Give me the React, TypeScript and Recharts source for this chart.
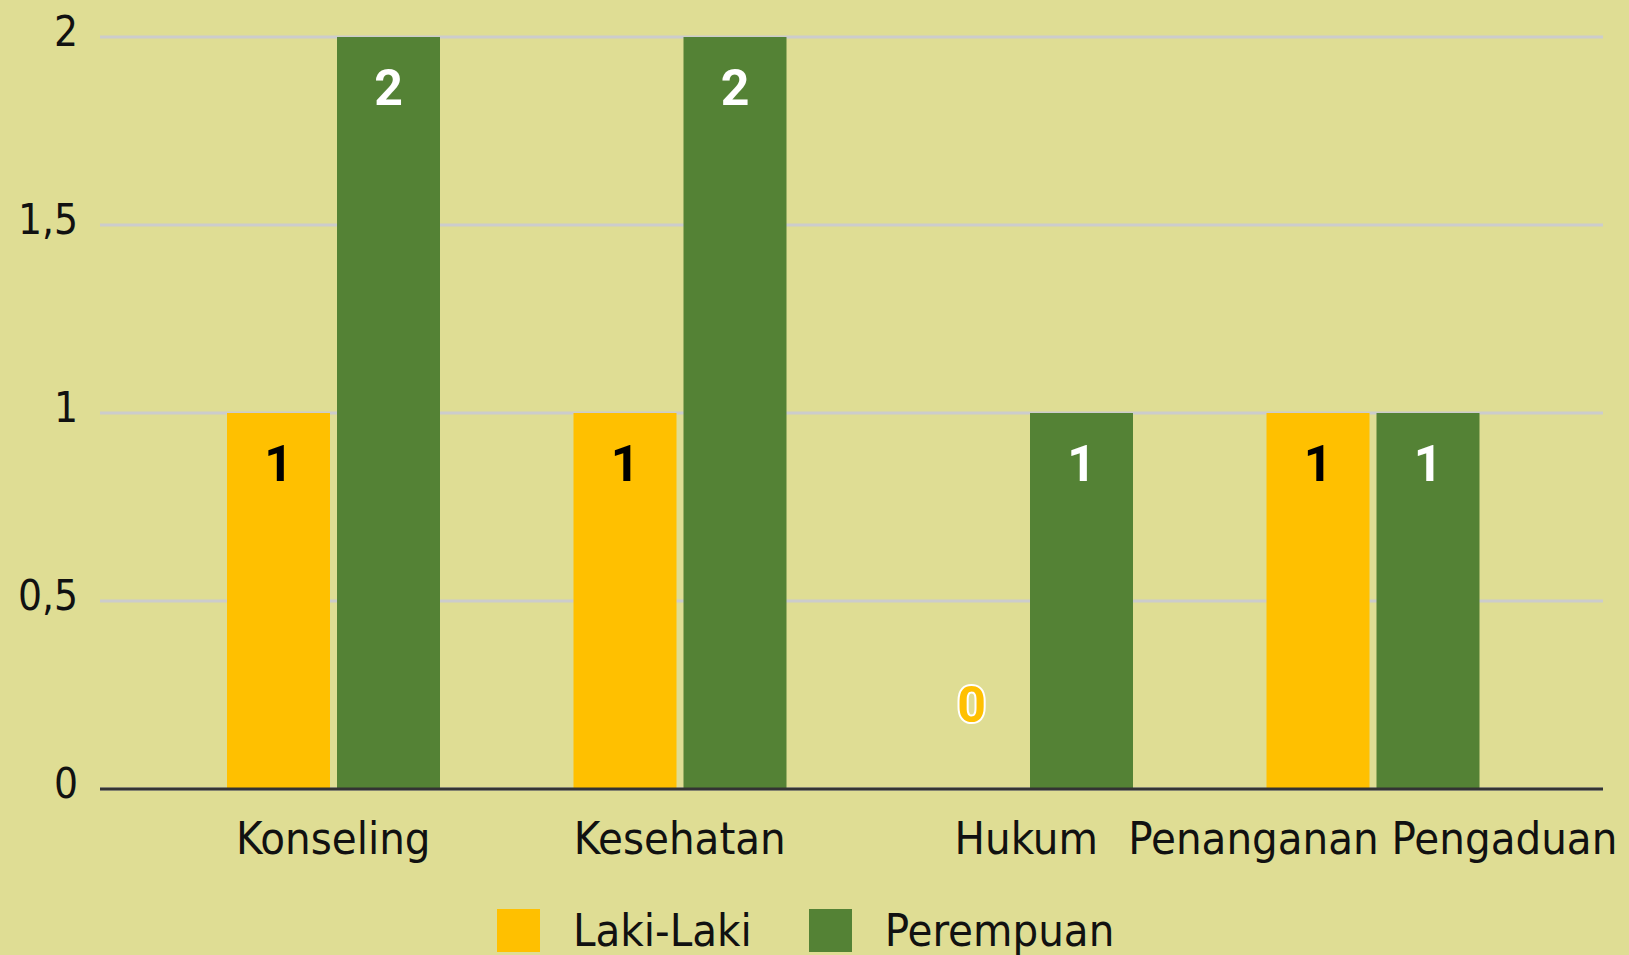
import { BarChart, Bar, XAxis, YAxis, CartesianGrid, Legend, LabelList } from "recharts";

const categories = ["Konseling", "Kesehatan", "Hukum", "Penanganan Pengaduan"];
const lakiLaki = [1, 1, 0, 1];
const perempuan = [2, 2, 1, 1];
const yTicks = [0, 0.5, 1, 1.5, 2];

const data = categories.map((name, i) => ({
  name,
  laki: lakiLaki[i],
  perempuan: perempuan[i],
}));

const FONT = "'DejaVu Sans Condensed', 'DejaVu Sans', sans-serif";
const BG = "#DFDD94";
const YELLOW = "#FFC000";
const GREEN = "#548235";

function YTick(props: any) {
  const { x, y, payload } = props;
  return (
    <text
      x={x - 14}
      y={y + 9}
      textAnchor="end"
      fontFamily={FONT}
      fontStretch="condensed"
      fontSize={42}
      fill="#111"
    >
      {String(payload.value).replace(".", ",")}
    </text>
  );
}

function XTick(props: any) {
  const { x, y, payload } = props;
  return (
    <text
      x={x}
      y={y + 57}
      textAnchor="middle"
      fontFamily={FONT}
      fontStretch="condensed"
      fontSize={45}
      fill="#111"
    >
      {payload.value}
    </text>
  );
}

const makeLabel = (textColor: string, barColor: string) => (props: any) => {
  const { x, y, width, value } = props;
  const cx = x + width / 2;
  if (Number(value) === 0) {
    return (
      <text
        x={cx}
        y={y - 67}
        textAnchor="middle"
        fontFamily="Roboto, sans-serif"
        fontWeight={700}
        fontSize={50}
        fill={barColor}
        stroke="#fff"
        strokeWidth={4}
        paintOrder="stroke"
      >
        {value}
      </text>
    );
  }
  return (
    <text
      x={cx}
      y={y + 68}
      textAnchor="middle"
      fontFamily="Roboto, sans-serif"
      fontWeight={700}
      fontSize={50}
      fill={textColor}
    >
      {value}
    </text>
  );
};

function LegendBox(props: any) {
  const { payload } = props;
  return (
    <div style={{ display: "flex", alignItems: "center", height: 47, marginLeft: 497 }}>
      {payload.map((item: any, i: number) => (
        <div key={i} style={{ display: "flex", alignItems: "center", marginRight: 57 }}>
          <div style={{ width: 43, height: 43, background: item.color, marginRight: 33 }} />
          <span
            style={{
              fontFamily: FONT,
              fontStretch: "condensed",
              fontSize: 45,
              color: "#111",
              lineHeight: "47px",
            }}
          >
            {item.value}
          </span>
        </div>
      ))}
    </div>
  );
}

export default function App() {
  return (
    <div style={{ width: 1629, height: 955, background: BG, position: "relative" }}>
      <style>{`body{margin:0;}`}</style>
      <BarChart
        width={1629}
        height={955}
        data={data}
        margin={{ top: 37, right: 26, left: 0, bottom: 106 }}
        barSize={103}
        barGap={7}
      >
        <CartesianGrid vertical={false} stroke="#CCCCCC" strokeWidth={3} />
        <XAxis
          dataKey="name"
          height={60}
          padding={{ left: 60, right: 57 }}
          axisLine={{ stroke: "#333333", strokeWidth: 3 }}
          tickLine={false}
          tick={<XTick />}
          interval={0}
        />
        <YAxis
          width={100}
          domain={[0, 2]}
          ticks={yTicks}
          axisLine={false}
          tickLine={false}
          tick={<YTick />}
        />
        <Legend
          verticalAlign="middle"
          align="center"
          layout="horizontal"
          wrapperStyle={{ top: 907, left: 0, width: 1629 }}
          content={<LegendBox />}
        />
        <Bar
          dataKey="laki"
          name="Laki-Laki"
          fill={YELLOW}
          minPointSize={0.001}
          isAnimationActive={false}
        >
          <LabelList dataKey="laki" content={makeLabel("#000", YELLOW)} />
        </Bar>
        <Bar dataKey="perempuan" name="Perempuan" fill={GREEN} isAnimationActive={false}>
          <LabelList dataKey="perempuan" content={makeLabel("#fff", GREEN)} />
        </Bar>
      </BarChart>
    </div>
  );
}
